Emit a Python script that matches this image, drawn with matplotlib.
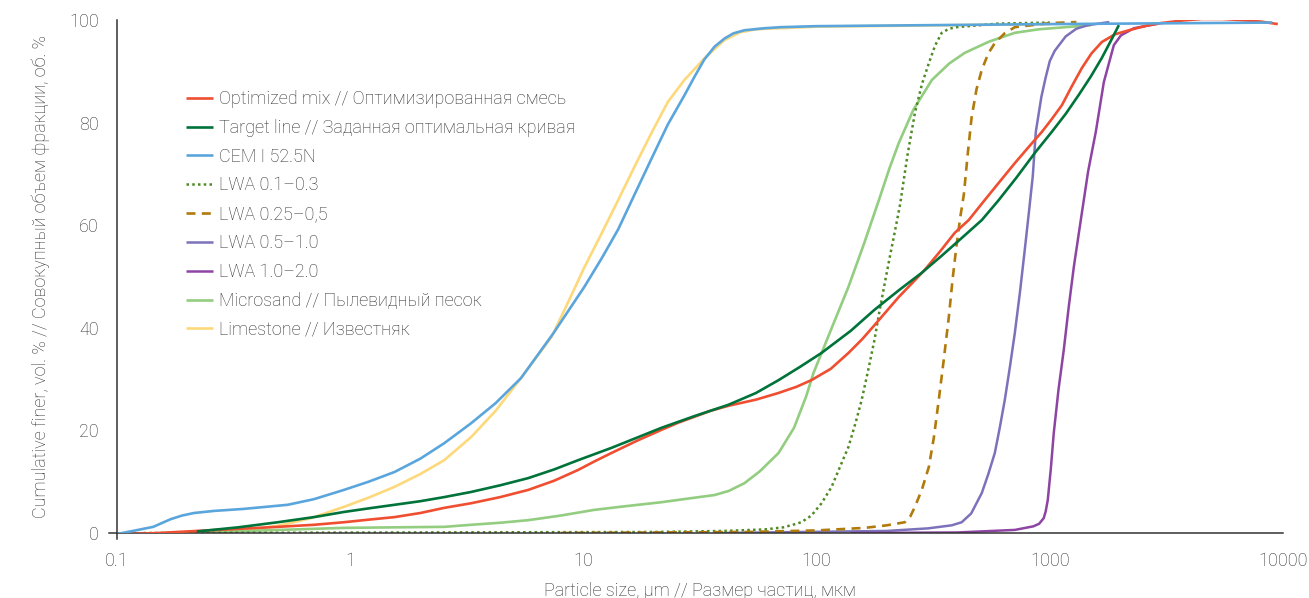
import matplotlib
matplotlib.use("Agg")
import matplotlib.pyplot as plt
from matplotlib.lines import Line2D

plt.rcParams['font.family'] = ['Roboto', 'DejaVu Sans']

# Particle sizes (µm) and cumulative passing (vol. %) for each material
opt_x = [0.1, 0.15, 0.22, 0.33, 0.49, 0.7, 0.94, 1.2, 1.55, 2.0, 2.53, 3.3, 4.4, 5.8, 7.5,
         9.5, 11.2, 13.2, 17, 21.6, 25.5, 29.7, 35, 41.9, 55, 68.7, 82, 95, 115, 137, 157,
         177, 200, 225, 258, 291, 340, 391, 449, 526, 610, 708, 810, 925, 1020, 1127, 1240,
         1371, 1510, 1671, 1900, 2183, 2600, 3000, 3700, 4500, 5500, 6500, 8000, 9500]
opt_y = [-0.3, 0.0, 0.4, 0.8, 1.2, 1.6, 2.1, 2.6, 3.1, 3.9, 4.9, 5.8, 7.0, 8.4, 10.2,
         12.3, 14.0, 15.6, 18.0, 20.1, 21.5, 22.6, 23.8, 24.8, 26.0, 27.3, 28.5, 29.8, 32.0,
         35.1, 37.8, 40.5, 43.3, 46.0, 48.8, 51.3, 55.0, 58.5, 61.0, 64.9, 68.5, 72.1, 75.2,
         78.2, 80.7, 83.4, 87.0, 90.6, 93.5, 95.7, 97.2, 98.0, 98.9, 99.4, 99.9, 100.2, 100.2,
         100.0, 99.7, 99.2]

target_x = [0.22, 0.33, 0.49, 0.7, 0.94, 1.2, 1.55, 2.0, 2.53, 3.3, 4.4, 5.8, 7.5, 9.5,
            11.2, 13.2, 17, 21.6, 30, 41.9, 55, 68.7, 85, 105, 140, 177, 225, 282, 345, 419,
            511, 604, 720, 863, 1020, 1170, 1331, 1500, 1671, 1830, 1978]
target_y = [0.3, 1.1, 2.1, 3.1, 4.1, 4.8, 5.5, 6.2, 7.0, 8.0, 9.3, 10.7, 12.4, 14.2,
            15.4, 16.6, 18.6, 20.5, 22.8, 25.0, 27.3, 29.8, 32.4, 35.1, 39.4, 43.5, 47.3,
            50.7, 54.1, 57.5, 61.0, 64.9, 69.3, 74.1, 78.2, 81.7, 85.4, 89.0, 92.6, 96.0, 99.0]

cem_x = [0.1, 0.12, 0.143, 0.17, 0.19, 0.214, 0.26, 0.35, 0.54, 0.7, 0.94, 1.2, 1.55, 2.0,
         2.53, 2.9, 3.3, 4.2, 5.4, 7.4, 10.1, 12, 14.1, 16.5, 19.6, 23, 27.1, 30, 33, 36.5,
         40.3, 44, 49, 60, 70, 100, 1000, 9000]
cem_y = [-0.2, 0.5, 1.2, 2.7, 3.4, 3.9, 4.3, 4.7, 5.5, 6.6, 8.4, 10.0, 11.9, 14.5,
         17.5, 19.5, 21.4, 25.3, 30.2, 38.8, 48.0, 53.6, 59.2, 65.8, 73.0, 79.6, 85.3, 89.0,
         92.3, 94.8, 96.4, 97.4, 98.0, 98.4, 98.6, 98.8, 99.2, 99.5]

lwa1_x = [0.13, 20, 40, 60, 72, 80.5, 86, 95, 105, 116, 126, 137, 147, 156, 166, 177, 186,
          196, 206, 216, 228, 245, 264, 283, 303, 322, 344, 370, 398, 600, 1000]
lwa1_y = [0.0, 0.2, 0.4, 0.7, 1.1, 1.7, 2.1, 3.4, 5.8, 9.0, 12.9, 16.8, 21.5, 25.9, 31.5,
          37.6, 43.2, 48.7, 53.8, 58.5, 64.0, 73.5, 81.9, 87.5, 91.6, 95.0, 97.5, 98.3, 98.6,
          99.3, 99.5]

lwa2_x = [8, 50, 100, 161, 200, 239, 252, 264, 283, 303, 318, 334, 351, 369, 383, 398, 413,
          428, 445, 462, 485, 511, 545, 581, 640, 708, 1000, 1300]
lwa2_y = [0.0, 0.2, 0.5, 1.0, 1.5, 2.1, 3.2, 5.1, 8.5, 12.9, 18.5, 25.9, 33.8, 42.1, 49.5,
          56.0, 61.5, 66.0, 74.0, 81.0, 86.5, 90.3, 93.5, 95.5, 97.4, 98.6, 99.4, 99.6]

lwa3_x = [39, 200, 300, 380, 419, 460, 511, 545, 581, 610, 641, 675, 708, 745, 781, 813,
          845, 871, 920, 960, 1000, 1050, 1170, 1300, 1460, 1800]
lwa3_y = [0.0, 0.4, 0.9, 1.5, 2.1, 3.8, 7.8, 11.5, 15.6, 20.5, 25.9, 32.5, 39.0, 47.0, 55.2,
          62.4, 69.5, 78.2, 85.0, 88.8, 92.0, 94.0, 96.8, 98.3, 99.0, 99.6]

lwa4_x = [140, 400, 708, 850, 900, 942, 960, 980, 1010, 1040, 1090, 1148, 1205, 1268, 1358,
          1460, 1575, 1705, 1882, 2018, 2296, 2930]
lwa4_y = [0.0, 0.1, 0.6, 1.3, 1.8, 2.9, 4.2, 6.4, 12.5, 19.5, 28.0, 35.7, 44.0, 51.9, 61.0,
          70.5, 78.2, 87.9, 95.1, 97.0, 98.4, 99.3]

sand_x = [0.2, 0.35, 0.5, 0.94, 2.53, 3.3, 4.4, 5.8, 8, 11.1, 15, 21.6, 28, 36.5, 42, 49,
          57, 68.7, 80, 90, 97, 115, 137, 160, 185, 205, 225, 260, 312, 370, 432, 550, 708,
          900, 1170, 1500]
sand_y = [0.0, 0.4, 0.6, 1.0, 1.2, 1.6, 2.0, 2.5, 3.4, 4.5, 5.2, 6.0, 6.7, 7.4, 8.2, 9.7,
          12.0, 15.6, 20.5, 26.5, 31.2, 39.5, 48.0, 56.5, 64.9, 71.0, 76.0, 82.5, 88.3, 91.5,
          93.6, 95.8, 97.5, 98.2, 98.6, 99.0]

lime_x = [0.2, 0.25, 0.35, 0.49, 0.68, 0.94, 1.2, 1.55, 2.0, 2.53, 3.3, 4.2, 5.4, 7.3, 8.6,
          10.1, 12, 14.1, 16.6, 19.6, 23, 27.1, 33, 40.3, 47, 55, 100, 1000]
lime_y = [0.0, 0.1, 0.5, 1.4, 2.9, 5.1, 6.9, 9.0, 11.5, 14.2, 18.7, 23.8, 30.2, 38.2, 45.0,
          51.8, 58.5, 64.9, 71.5, 78.0, 84.0, 88.3, 92.5, 96.1, 97.6, 98.2, 98.7, 99.2]

labels = [
    "Optimized mix // Оптимизированная смесь",
    "Target line // Заданная оптимальная кривая",
    "CEM I 52.5N",
    "LWA 0.1–0.3",
    "LWA 0.25–0,5",
    "LWA 0.5–1.0",
    "LWA 1.0–2.0",
    "Microsand // Пылевидный песок",
    "Limestone // Известняк",
]
x_ticks = [0.1, 1, 10, 100, 1000, 10000]
x_tick_labels = ["0.1", "1", "10", "100", "1000", "10000"]
y_ticks = [0, 20, 40, 60, 80, 100]

series = [
    (opt_x, opt_y, dict(color="#f04e30", lw=1.9, ls="-", zorder=6)),
    (target_x, target_y, dict(color="#00733a", lw=1.9, ls="-", zorder=7)),
    (cem_x, cem_y, dict(color="#5aa6dc", lw=1.9, ls="-", zorder=8)),
    (lwa1_x, lwa1_y, dict(color="#4e8a22", lw=1.8, ls=(0, (1, 1.3)), zorder=4)),
    (lwa2_x, lwa2_y, dict(color="#b07a0c", lw=1.9, ls=(0, (3.4, 2.4)), zorder=4)),
    (lwa3_x, lwa3_y, dict(color="#7c72bb", lw=1.8, ls="-", zorder=3)),
    (lwa4_x, lwa4_y, dict(color="#8e44a3", lw=1.8, ls="-", zorder=3)),
    (sand_x, sand_y, dict(color="#93cd80", lw=1.9, ls="-", zorder=2)),
    (lime_x, lime_y, dict(color="#fdd97b", lw=1.9, ls="-", zorder=1)),
]

W, H = 1309, 598
fig = plt.figure(figsize=(W / 100, H / 100), dpi=100)
ax = fig.add_axes([117 / W, 1 - 533 / H, (1283 - 117) / W, (533 - 20) / H])

handles = []
for (xs, ys, st), lab in zip(series, labels):
    ln, = ax.plot(xs, ys, label=lab, solid_capstyle="butt", solid_joinstyle="round", **st)
    handles.append(ln)

ax.set_xscale("log")
ax.set_xlim(0.1, 10000)
ax.set_ylim(0, 100)
ax.set_xticks(x_ticks)
ax.set_xticklabels(x_tick_labels)
ax.xaxis.set_minor_locator(matplotlib.ticker.NullLocator())
ax.set_yticks(y_ticks)

text_color = "#2e2e2e"
ax.tick_params(axis="both", length=0, labelsize=13, colors=text_color)
ax.tick_params(axis="x", pad=14)
ax.tick_params(axis="y", pad=13)
for lab in ax.get_xticklabels() + ax.get_yticklabels():
    lab.set_fontweight("light")

for side in ["top", "right"]:
    ax.spines[side].set_visible(False)
for side in ["left", "bottom"]:
    ax.spines[side].set_color("#333333")
    ax.spines[side].set_linewidth(1.1)
    ax.spines[side].set_zorder(5)

# short stubs where the two axis lines meet
ax.add_line(Line2D([-0.007, 0], [0, 0], transform=ax.transAxes, color="#333333",
                   lw=1.1, clip_on=False))
ax.add_line(Line2D([0, 0], [-0.012, 0], transform=ax.transAxes, color="#333333",
                   lw=1.1, clip_on=False))

ax.set_xlabel("Particle size, µm // Размер частиц, мкм", fontsize=13, color=text_color,
              labelpad=8, fontweight="light")
ax.set_ylabel("Cumulative finer, vol. % // Совокупный объем фракции, об. %", fontsize=13,
              color=text_color, labelpad=14, fontweight="light")

leg = ax.legend(handles=handles, loc="upper left", bbox_to_anchor=(186 / W, 1 - 90 / H),
                bbox_transform=fig.transFigure, frameon=False,
                prop=dict(size=13, weight="light"),
                handlelength=1.5, handletextpad=0.35, labelspacing=0.6, borderpad=0,
                borderaxespad=0)
for t in leg.get_texts():
    t.set_color(text_color)

fig.savefig("out.png", dpi=100, facecolor="white")
